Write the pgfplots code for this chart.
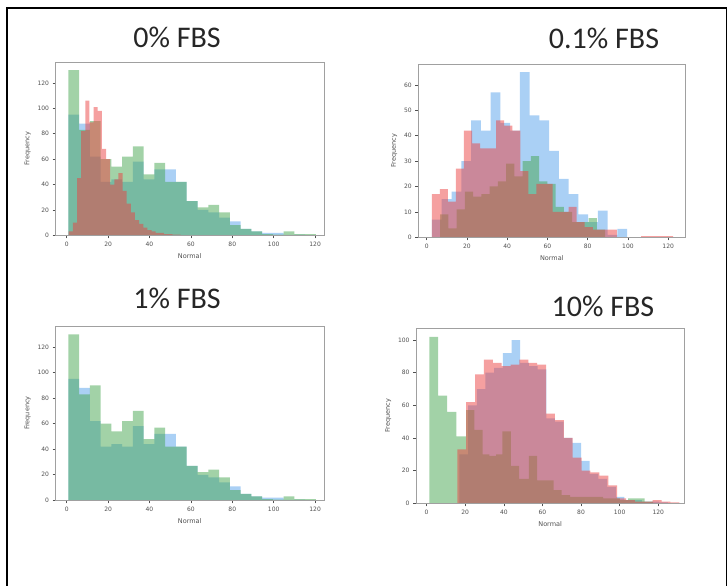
\documentclass[border=0pt]{standalone}
\usepackage{pgfplots}
\pgfplotsset{compat=1.18}
\usepackage{fontspec}
\setmainfont{Carlito}
\newfontfamily\dejavu{DejaVu Sans}

\definecolor{hblue}{RGB}{85,161,235}
\definecolor{hred}{RGB}{235,65,65}
\definecolor{hgreen}{RGB}{70,165,80}
\definecolor{spine}{RGB}{160,160,160}
\definecolor{ticktext}{RGB}{80,80,80}

\pgfplotsset{
  hist/.style={
    scale only axis, anchor=south west,
    ymin=0, axis on top,
    axis line style={spine, line width=0.9pt},
    tick style={ticktext, line width=0.6pt},
    tick align=outside, major tick length=3pt,
    xtick pos=bottom, ytick pos=left,
    xtick={0,20,...,120},
    /pgf/number format/assume math mode=true,
    ticklabel style={font=\dejavu\fontsize{6}{7}\selectfont, text=ticktext},
    label style={font=\dejavu\fontsize{6.5}{7}\selectfont, text=ticktext},
    xlabel={Normal}, ylabel={Frequency},
  },
  hbar/.style={ybar interval, fill=#1, fill opacity=0.5, draw=none},
}

\begin{document}
\begin{tikzpicture}[x=1pt,y=1pt]
\useasboundingbox (0,0) rectangle (728,586);
\draw[line width=1.6pt] (7,-5) -- (7,578) -- (726.5,578) -- (726.5,-5);

\node[font=\fontsize{30}{33}\selectfont, text=black!85] at (177,549) {0\% FBS};
\node[font=\fontsize{30}{33}\selectfont, text=black!85] at (604,548) {0.1\% FBS};
\node[font=\fontsize{30}{33}\selectfont, text=black!85] at (177,288) {1\% FBS};
\node[font=\fontsize{30}{33}\selectfont, text=black!85] at (603,280) {10\% FBS};

% 0% FBS
\begin{axis}[hist, at={(55.5pt,350.7pt)}, width=268.5pt, height=173.3pt,
  xmin=-5.4, xmax=124.3, ymax=136.5, ytick={0,20,...,120}]
\addplot[hbar=hblue] coordinates {(0.8,95) (6.0,88) (11.2,62) (16.4,42) (21.6,44) (26.8,42) (32.0,58) (37.2,44) (42.4,52) (47.6,52) (52.8,42) (58.0,27) (63.2,20) (68.4,18) (73.6,14) (78.8,11) (84.0,5) (89.2,3) (94.4,2) (99.6,2) (104.8,0.3) (110.0,0.5) (115.2,0)};
\addplot[hbar=hgreen] coordinates {(0.8,130) (6.0,83) (11.2,90) (16.4,60) (21.6,54) (26.8,62) (32.0,70) (37.2,48) (42.4,57) (47.6,42) (52.8,42) (58.0,27) (63.2,22) (68.4,24) (73.6,18) (78.8,8) (84.0,5) (89.2,3) (94.4,1) (99.6,0.5) (104.8,3) (110.0,1) (115.2,1) (120.4,0)};
\addplot[hbar=hred] coordinates {(1,3) (3,10) (5,45) (7,82) (9,106) (11,89) (13,101) (15,98) (17,68) (19,60) (21,40) (23,44) (25,49) (27,35) (29,25) (31,18) (33,12) (35,9) (37,6) (39,4) (41,3) (43,2) (45,2) (47,1) (49,1) (51,0.5) (53,0.5) (55,0)};
\end{axis}

% 0.1% FBS
\begin{axis}[hist, at={(418.3pt,348.7pt)}, width=267pt, height=173pt,
  xmin=-4.2, xmax=128.5, ymax=68.1, ytick={0,10,...,60}]
\addplot[hbar=hblue] coordinates {(2.6,7) (7.45,15) (12.3,18) (17.15,30) (22.0,46) (26.85,42) (31.7,57) (36.55,45) (41.4,42) (46.25,65) (51.1,48) (55.95,46) (60.8,34) (65.65,23) (70.5,17) (75.35,9) (80.2,6) (85.05,10.5) (89.9,1) (94.75,3.3) (99.6,0)};
\addplot[hbar=hgreen] coordinates {(6.7,9) (10.8,3.5) (14.9,11) (19.0,18) (23.1,16) (27.2,17) (31.3,20) (35.4,22) (39.5,29) (43.6,24) (47.7,30) (51.8,32) (55.9,22) (60.0,21) (64.1,12) (68.2,10) (72.3,6) (76.4,6) (80.5,7.5) (84.6,3) (88.7,0)};
\addplot[hbar=hred] coordinates {(2.5,17) (6.5,19) (10.5,14) (14.5,27) (18.5,42) (22.5,37) (26.5,35) (30.5,35) (34.5,46) (38.5,44) (42.5,42) (46.5,26) (50.5,17) (54.5,21) (58.5,21) (62.5,10) (66.5,10) (70.5,12) (74.5,6) (78.5,4) (82.5,3) (86.5,3) (90.5,3) (94.5,0) (98.5,0) (102.5,0) (106.5,0.5) (110.5,0.5) (114.5,0.5) (118.5,0.5) (122.5,0)};
\end{axis}

% 1% FBS
\begin{axis}[hist, at={(55.5pt,85.7pt)}, width=268.5pt, height=174.3pt,
  xmin=-5.4, xmax=124.3, ymax=136.5, ytick={0,20,...,120}]
\addplot[hbar=hblue] coordinates {(0.8,95) (6.0,88) (11.2,62) (16.4,42) (21.6,44) (26.8,42) (32.0,58) (37.2,44) (42.4,52) (47.6,52) (52.8,42) (58.0,27) (63.2,20) (68.4,18) (73.6,14) (78.8,11) (84.0,5) (89.2,3) (94.4,2) (99.6,2) (104.8,0.3) (110.0,0.5) (115.2,0)};
\addplot[hbar=hgreen] coordinates {(0.8,130) (6.0,83) (11.2,90) (16.4,60) (21.6,54) (26.8,62) (32.0,70) (37.2,48) (42.4,57) (47.6,42) (52.8,42) (58.0,27) (63.2,22) (68.4,24) (73.6,18) (78.8,8) (84.0,5) (89.2,3) (94.4,1) (99.6,0.5) (104.8,3) (110.0,1) (115.2,1) (120.4,0)};
\end{axis}

% 10% FBS
\begin{axis}[hist, at={(416pt,82.7pt)}, width=268.3pt, height=175pt,
  xmin=-5.5, xmax=133.5, ymax=107.2, ytick={0,20,...,100}]
\addplot[hbar=hblue] coordinates {(17,30) (21.5,60) (26,70) (30.5,80) (35,83) (39.5,92) (44,100) (48.5,86) (53,84) (57.5,82) (62,52) (66.5,50) (71,40) (75.5,37) (80,26) (84.5,18) (89,15) (93.5,10) (98,4) (102.5,2) (107,2) (111.5,1) (116,1) (120.5,0.5) (125,0)};
\addplot[hbar=hgreen] coordinates {(1.4,102) (6.0,66) (10.6,56) (15.4,41) (20.5,57) (24.8,45) (29.0,30) (32.5,29) (36.0,30) (39.3,44) (43.6,23) (47.9,15) (53.0,29) (57.3,14) (61.5,14) (65.8,8) (70.0,5) (74.3,4) (78.6,4) (82.9,4) (87.2,4) (91.5,3) (95.8,3) (100.1,2) (104.4,3) (108.7,3) (113.0,1) (117.3,0)};
\addplot[hbar=hred] coordinates {(15.9,33) (20.5,62) (25.1,79) (29.7,88) (34.3,86) (38.9,84) (43.5,85) (48.1,88) (52.7,86) (57.3,85) (61.9,55) (66.5,51) (71.1,40) (75.7,28) (80.3,20) (84.9,19) (89.5,17) (94.1,11) (98.7,3) (103.3,2) (107.9,1) (112.5,1) (117.1,2) (121.7,1) (126.3,0.5) (130.9,0)};
\end{axis}
\end{tikzpicture}
\end{document}
